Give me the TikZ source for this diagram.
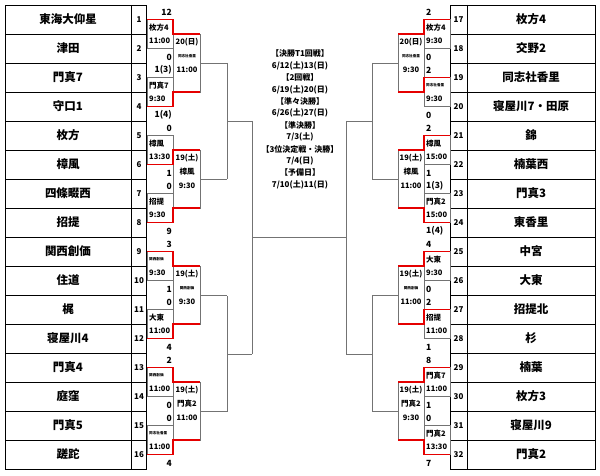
\documentclass[tikz,border=0pt]{standalone}
\usepackage{fontspec}
\setmainfont{Noto Sans CJK JP}
\tikzset{
 gl/.style={draw=black!55,line width=0.9pt},
 rl/.style={draw=red!90!black,line width=1.3pt},
 team/.style={font=\bfseries\fontsize{11.5}{12}\selectfont},
 num/.style={font=\bfseries\fontsize{8}{9}\selectfont},
 sc/.style={font=\bfseries\fontsize{8.5}{9}\selectfont,inner sep=0pt},
 bx/.style={font=\bfseries\fontsize{7.5}{8}\selectfont,inner sep=0pt},
 ctr/.style={font=\bfseries\fontsize{8}{9}\selectfont,align=center}
}
\newcommand\tny[1]{{\fontsize{3.6}{4}\selectfont #1}}
\newcommand\lfirst[6]{%
 \pgfmathsetmacro\ca{29*#1-9.5}\pgfmathsetmacro\cb{\ca+29}\pgfmathsetmacro\jj{\ca+14.5}%
 \draw[gl] (147,\ca) rectangle (173,\cb);
 \if#2t\draw[rl] (147,\ca)--(173,\ca)--(173,\jj)--(200,\jj);\else\draw[rl] (147,\cb)--(173,\cb)--(173,\jj)--(200,\jj);\fi
 \node[sc,anchor=east] (ls#1a) at (172,\ca-7.5) {#3};
 \node[bx,anchor=west] (ln#1) at (149,\ca+8) {#4};
 \node[bx,anchor=west] (lt#1) at (149,\cb-8) {#5};
 \node[sc,anchor=east] (ls#1b) at (172,\cb+8.5) {#6};
}
\newcommand\rfirst[6]{%
 \pgfmathsetmacro\ca{29*(#1-16)-9.5}\pgfmathsetmacro\cb{\ca+29}\pgfmathsetmacro\jj{\ca+14.5}%
 \draw[gl] (424,\ca) rectangle (450,\cb);
 \if#2t\draw[rl] (450,\ca)--(424,\ca)--(424,\jj)--(398,\jj);\else\draw[rl] (450,\cb)--(424,\cb)--(424,\jj)--(398,\jj);\fi
 \node[sc,anchor=west] (rs#1a) at (426,\ca-7.5) {#3};
 \node[bx,anchor=west] (rn#1) at (426,\ca+8) {#4};
 \node[bx,anchor=west] (rt#1) at (426,\cb-8) {#5};
 \node[sc,anchor=west] (rs#1b) at (426,\cb+8.5) {#6};
}
\newcommand\lsecond[4]{%
 \pgfmathsetmacro\ja{29*#1+5}\pgfmathsetmacro\jb{\ja+58}\pgfmathsetmacro\jm{\ja+29}%
 \draw[gl] (173,\ja) rectangle (200,\jb);
 \draw[gl] (200,\jm)--(227,\jm);
 \node[bx] (lsd#1) at (187,\ja+8) {#2};
 \node[bx] (lsn#1) at (187,\ja+22) {#3};
 \node[bx] (lst#1) at (187,\ja+36) {#4};
}
\newcommand\rsecond[4]{%
 \pgfmathsetmacro\ja{29*(#1-16)+5}\pgfmathsetmacro\jb{\ja+58}\pgfmathsetmacro\jm{\ja+29}%
 \draw[gl] (398,\ja) rectangle (424,\jb);
 \draw[gl] (398,\jm)--(372,\jm);
 \node[bx] (rsd#1) at (411,\ja+8) {#2};
 \node[bx] (rsn#1) at (411,\ja+22) {#3};
 \node[bx] (rst#1) at (411,\ja+36) {#4};
}
\begin{document}
\begin{tikzpicture}[x=1pt,y=-1pt]
\useasboundingbox[fill=white] (0,0) rectangle (600,476);
\draw[black,line width=0.8pt] (5,5) rectangle (146,469);
\draw[black,line width=0.8pt] (131,5)--(131,469);
\draw[black,line width=0.8pt] (450,5) rectangle (595,469);
\draw[black,line width=0.8pt] (467,5)--(467,469);
\foreach \i in {1,...,15}{\draw[black,line width=0.7pt] (5,5+29*\i)--(146,5+29*\i);
 \draw[black,line width=0.7pt] (450,5+29*\i)--(595,5+29*\i);}
\foreach \n [count=\i] in {東海大仰星,津田,門真7,守口1,枚方,樟風,四條畷西,招提,関西創価,住道,梶,寝屋川4,門真4,庭窪,門真5,蹉跎}{
 \node[team] (lteam\i) at (68,29*\i-9.5) {\n};
 \node[num] (lnum\i) at (139,29*\i-9) {\i};}
\foreach \n [count=\i] in {枚方4,交野2,同志社香里,寝屋川7・田原,錦,楠葉西,門真3,東香里,中宮,大東,招提北,杉,楠葉,枚方3,寝屋川9,門真2}{
 \pgfmathtruncatemacro\k{\i+16}
 \node[team] (rteam\k) at (531,29*\i-9.5) {\n};
 \node[num] (rnum\k) at (458.5,29*\i-9) {\k};}
\draw[gl] (227,63)--(227,179) (227,121)--(252,121);
\draw[gl] (227,296)--(227,412) (227,354)--(252,354);
\draw[gl] (252,121)--(252,354) (252,237.5)--(346,237.5);
\draw[gl] (372,63)--(372,179) (372,121)--(346,121);
\draw[gl] (372,296)--(372,412) (372,354)--(346,354);
\draw[gl] (346,121)--(346,354);
\lsecond{1}{20(日)}{\tny{同志社香里}}{11:00}
\lsecond{5}{19(土)}{樟風}{9:30}
\lsecond{9}{19(土)}{\tny{関西創価}}{9:30}
\lsecond{13}{19(土)}{門真2}{11:00}
\rsecond{17}{20(日)}{\tny{同志社香里}}{9:30}
\rsecond{21}{19(土)}{樟風}{11:00}
\rsecond{25}{19(土)}{\tny{関西創価}}{11:00}
\rsecond{29}{19(土)}{門真2}{9:30}
\lfirst{1}{t}{12}{枚方4}{11:00}{0}
\lfirst{3}{b}{1(3)}{門真7}{9:30}{1(4)}
\lfirst{5}{b}{0}{樟風}{13:30}{1}
\lfirst{7}{b}{0}{招提}{9:30}{9}
\lfirst{9}{t}{3}{\tny{関西創価}}{9:30}{1}
\lfirst{11}{b}{0}{大東}{11:00}{4}
\lfirst{13}{t}{2}{\tny{関西創価}}{11:00}{0}
\lfirst{15}{b}{0}{\tny{同志社香里}}{11:00}{4}
\rfirst{17}{t}{2}{枚方4}{9:30}{0}
\rfirst{19}{t}{2}{\tny{同志社香里}}{9:30}{0}
\rfirst{21}{t}{2}{樟風}{15:00}{1}
\rfirst{23}{b}{1(3)}{門真2}{15:00}{1(4)}
\rfirst{25}{t}{4}{大東}{9:30}{0}
\rfirst{27}{t}{2}{招提}{11:00}{1}
\rfirst{29}{t}{8}{門真7}{11:00}{1}
\rfirst{31}{b}{0}{門真2}{13:30}{7}
\foreach \t [count=\i] in {【決勝T1回戦】,6/12(土)13(日),【2回戦】,6/19(土)20(日),【準々決勝】,6/26(土)27(日),【準決勝】,7/3(土),【3位決定戦・決勝】,7/4(日),【予備日】,7/10(土)11(日)}{
 \node[ctr] (sched\i) at (300,42+11.9*\i) {\t};}
\end{tikzpicture}
\end{document}
